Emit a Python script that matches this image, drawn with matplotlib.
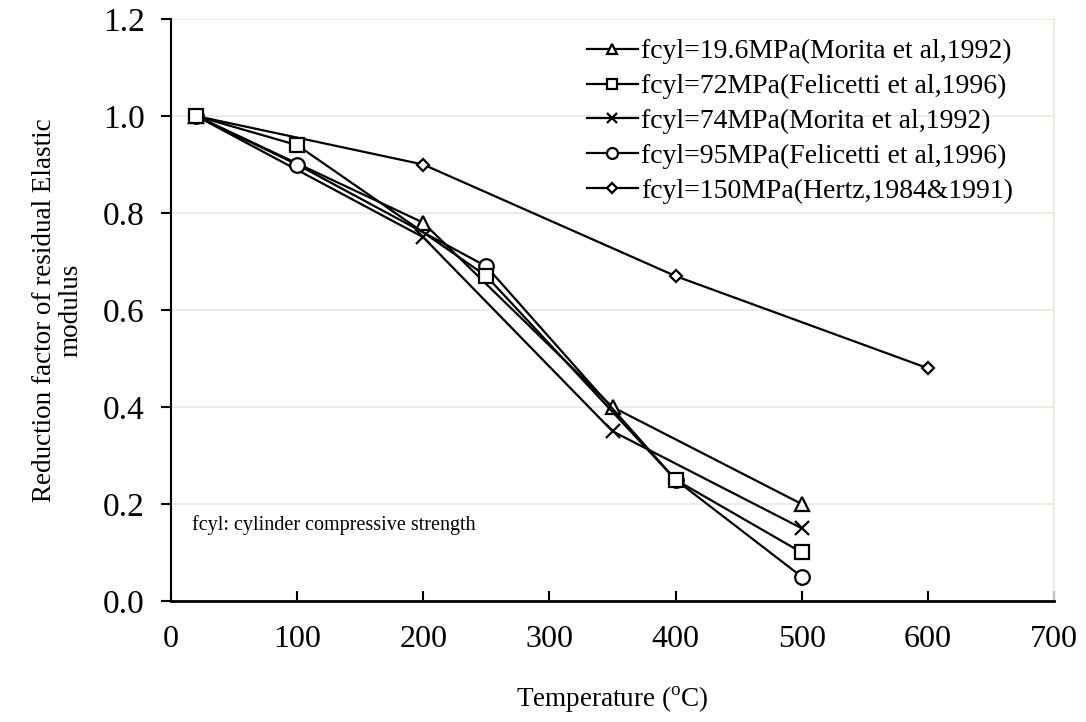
import matplotlib
matplotlib.use("Agg")
import matplotlib.pyplot as plt

plt.rcParams['font.family'] = ['Liberation Serif', 'DejaVu Serif']
plt.rcParams['mathtext.fontset'] = 'custom'
plt.rcParams['mathtext.rm'] = 'Liberation Serif'

labels = ["fcyl=19.6MPa(Morita et al,1992)",
          "fcyl=72MPa(Felicetti et al,1996)",
          "fcyl=74MPa(Morita et al,1992)",
          "fcyl=95MPa(Felicetti et al,1996)",
          "fcyl=150MPa(Hertz,1984&1991)"]

t_s1 = [20, 200, 350, 500]
v_s1 = [1.0, 0.78, 0.40, 0.20]
t_s2 = [20, 100, 250, 400, 500]
v_s2 = [1.0, 0.94, 0.67, 0.25, 0.10]
t_s3 = [20, 200, 350, 500]
v_s3 = [1.0, 0.75, 0.35, 0.15]
t_s4 = [20, 100, 250, 400, 500]
v_s4 = [1.0, 0.90, 0.69, 0.25, 0.05]
t_s5 = [20, 200, 400, 600]
v_s5 = [1.0, 0.90, 0.67, 0.48]

xticks = [0, 100, 200, 300, 400, 500, 600, 700]
yticks = [0.0, 0.2, 0.4, 0.6, 0.8, 1.0, 1.2]

fig = plt.figure(figsize=(10.86, 7.22), dpi=100)
ax = fig.add_axes([0.1575, 0.1676, 0.813, 0.806])

series = [(t_s1, v_s1, '^', 10.5, 3), (t_s2, v_s2, 's', 10.5, 5), (t_s3, v_s3, 'x', 10.5, 3),
          (t_s4, v_s4, 'o', 10.5, 4), (t_s5, v_s5, 'D', 6.5, 3)]
for (t, v, m, ms, z), lab in zip(series, labels):
    ax.plot(t, v, color='black', lw=1.6, marker=m, ms=ms, mfc='white', mec='black',
            mew=1.6, label=lab, zorder=z)

ax.set_xlim(0, 700)
ax.set_ylim(0, 1.2)
ax.set_xticks(xticks)
ax.set_yticks(yticks)
ax.set_yticklabels([f"{y:.1f}" for y in yticks])
ax.yaxis.grid(True, color='#e6ebd6', lw=1.2, zorder=0)
ax.set_axisbelow(True)
ax.spines['top'].set_visible(False)
ax.spines['right'].set_color('#e6ebd6')
ax.spines['right'].set_linewidth(1.2)
ax.spines['left'].set_linewidth(1.5)
ax.spines['bottom'].set_linewidth(2)
ax.tick_params(axis='x', direction='in', length=7, width=1.5, labelsize=23, pad=17)
ax.tick_params(axis='y', direction='out', length=7, width=1.5, labelsize=24, pad=12)

ax.set_xlabel('Temperature ($^{\\rm o}$C)', fontsize=19.5, labelpad=22)
ax.set_ylabel('Reduction factor of residual Elastic\nmodulus', fontsize=19.5,
              labelpad=14, linespacing=1.05)

ax.text(17, 0.157, 'fcyl: cylinder compressive strength', fontsize=14.5,
        ha='left', va='center')

leg = ax.legend(loc='upper left', bbox_to_anchor=(0.458, 0.985), frameon=False,
                fontsize=20, handlelength=1.85, handletextpad=0.1,
                labelspacing=0.34, borderaxespad=0, markerscale=0.75)

fig.savefig('out.png', dpi=100)
